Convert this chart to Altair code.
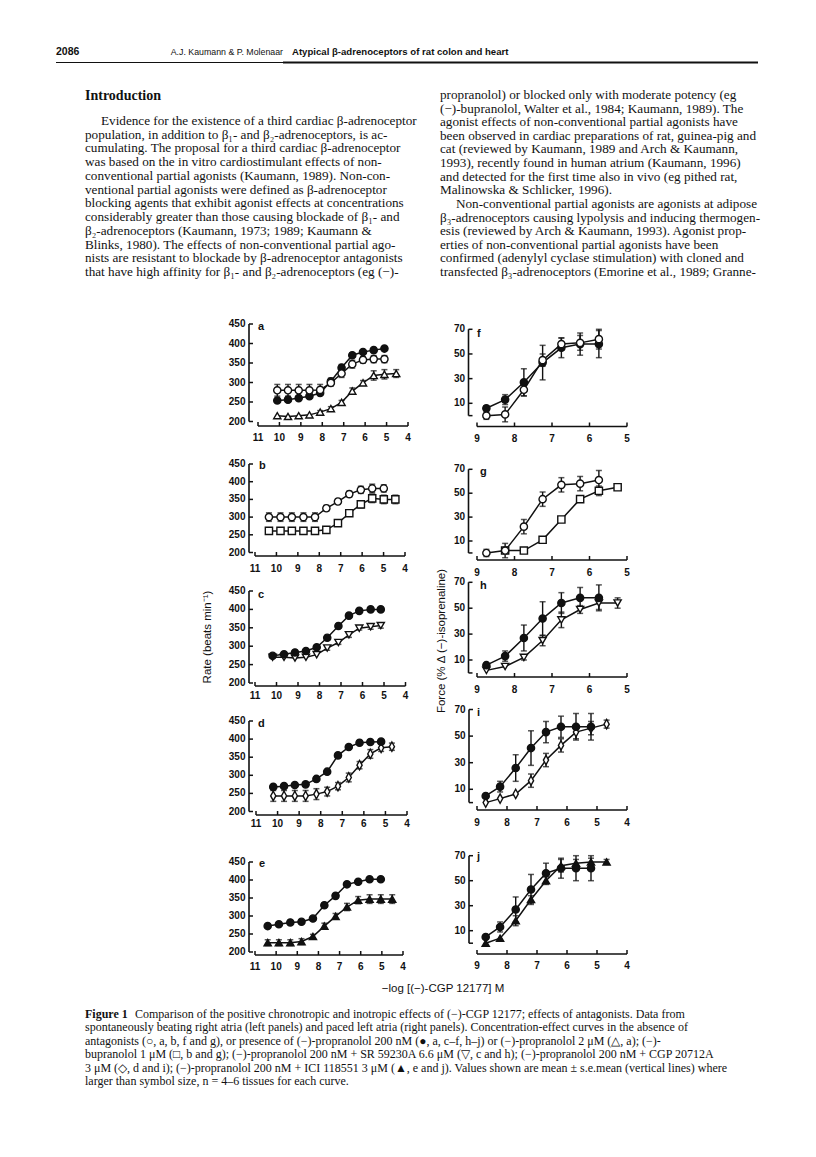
import altair as alt
import pandas as pd

OFF = 8  # page margin

# ---------------- text content ----------------
HEADER_PAGE = ["2086"]
HEADER_AUTH = ["A.J. Kaumann & P. Molenaar"]
HEADER_TITLE = ["Atypical β-adrenoceptors of rat colon and heart"]
SECTION = ["Introduction"]

LEFT_COL = [
    "Evidence for the existence of a third cardiac β-adrenoceptor",
    "population, in addition to β₁- and β₂-adrenoceptors, is ac-",
    "cumulating. The proposal for a third cardiac β-adrenoceptor",
    "was based on the in vitro cardiostimulant effects of non-",
    "conventional partial agonists (Kaumann, 1989). Non-con-",
    "ventional partial agonists were defined as β-adrenoceptor",
    "blocking agents that exhibit agonist effects at concentrations",
    "considerably greater than those causing blockade of β₁- and",
    "β₂-adrenoceptors (Kaumann, 1973; 1989; Kaumann &",
    "Blinks, 1980). The effects of non-conventional partial ago-",
    "nists are resistant to blockade by β-adrenoceptor antagonists",
    "that have high affinity for β₁- and β₂-adrenoceptors (eg (−)-",
]
LEFT_IND = [1, 0, 0, 0, 0, 0, 0, 0, 0, 0, 0, 0]

RIGHT_COL = [
    "propranolol) or blocked only with moderate potency (eg",
    "(−)-bupranolol, Walter et al., 1984; Kaumann, 1989). The",
    "agonist effects of non-conventional partial agonists have",
    "been observed in cardiac preparations of rat, guinea-pig and",
    "cat (reviewed by Kaumann, 1989 and Arch & Kaumann,",
    "1993), recently found in human atrium (Kaumann, 1996)",
    "and detected for the first time also in vivo (eg pithed rat,",
    "Malinowska & Schlicker, 1996).",
    "Non-conventional partial agonists are agonists at adipose",
    "β₃-adrenoceptors causing lypolysis and inducing thermogen-",
    "esis (reviewed by Arch & Kaumann, 1993). Agonist prop-",
    "erties of non-conventional partial agonists have been",
    "confirmed (adenylyl cyclase stimulation) with cloned and",
    "transfected β₃-adrenoceptors (Emorine et al., 1989; Granne-",
]
RIGHT_IND = [0, 0, 0, 0, 0, 0, 0, 0, 1, 0, 0, 0, 0, 0]

CAPTION_LABEL = ["Figure 1"]
CAPTION = [
    "Comparison of the positive chronotropic and inotropic effects of (−)-CGP 12177; effects of antagonists. Data from",
    "spontaneously beating right atria (left panels) and paced left atria (right panels). Concentration-effect curves in the absence of",
    "antagonists (○, a, b, f and g), or presence of (−)-propranolol 200 nM (●, a, c–f, h–j) or (−)-propranolol 2 μM (△, a); (−)-",
    "bupranolol 1 μM (□, b and g); (−)-propranolol 200 nM + SR 59230A 6.6 μM (▽, c and h); (−)-propranolol 200 nM + CGP 20712A",
    "3 μM (◇, d and i); (−)-propranolol 200 nM + ICI 118551 3 μM (▲, e and j). Values shown are mean ± s.e.mean (vertical lines) where",
    "larger than symbol size, n = 4–6 tissues for each curve.",
]
CAPTION_IND = [1, 0, 0, 0, 0, 0]

Y_TITLE_L = ["Rate (beats min⁻¹)"]
Y_TITLE_R = ["Force (% Δ (−)-isoprenaline)"]
X_TITLE = ["−log [(−)-CGP 12177] M"]

# ---------------- axis ticks ----------------
RATE_TICKS = [200, 250, 300, 350, 400, 450]
RATE_LABELS = ["200", "250", "300", "350", "400", "450"]
FORCE_TICKS = [0, 10, 30, 50, 70]
FORCE_LABELS = ["", "10", "30", "50", "70"]
LOGC_LEFT = [11, 10, 9, 8, 7, 6, 5, 4]
LOGC_RIGHT5 = [9, 8, 7, 6, 5]
LOGC_RIGHT4 = [9, 8, 7, 6, 5, 4]

# ---------------- data ----------------
A_X = [10.1, 9.6, 9.1, 8.6, 8.1, 7.6, 7.1, 6.6, 6.1, 5.6, 5.1, 4.55]
A_OPEN = [280, 280, 280, 280, 281, 299, 323, 347, 358, 360, 360]
A_OPEN_SE = [15, 15, 15, 15, 14, 8, 10, 10, 8, 9, 9]
A_FILL = [254, 256, 260, 265, 273, 303, 338, 370, 378, 383, 387]
A_FILL_SE = [0, 0, 0, 0, 5, 8, 8, 5, 0, 0, 0]
A_TRI = [215, 213, 215, 217, 224, 233, 249, 278, 299, 318, 321, 323]
A_TRI_SE = [0, 0, 0, 0, 4, 5, 5, 8, 6, 12, 12, 10]

B_X = [10.35, 9.81, 9.28, 8.74, 8.2, 7.67, 7.13, 6.6, 6.06, 5.53, 4.99, 4.45]
B_OPEN = [300, 300, 300, 300, 300, 325, 344, 365, 377, 381, 381]
B_OPEN_SE = [12, 12, 12, 12, 12, 8, 8, 8, 10, 12, 10]
B_SQ = [261, 261, 261, 261, 261, 264, 283, 311, 336, 353, 350, 350]
B_SQ_SE = [0, 0, 0, 0, 0, 0, 6, 6, 10, 12, 12, 12]

C_X = [10.18, 9.65, 9.14, 8.63, 8.13, 7.64, 7.12, 6.63, 6.15, 5.62, 5.15]
C_FILL = [274, 278, 283, 287, 297, 323, 355, 383, 396, 400, 400]
C_FILL_SE = [0, 0, 0, 0, 5, 6, 5, 5, 0, 0, 0]
C_DTRI = [270, 270, 268, 270, 277, 295, 310, 331, 349, 353, 356]
C_DTRI_SE = [0, 0, 0, 0, 0, 6, 5, 7, 5, 7, 7]

D_X = [10.2, 9.7, 9.2, 8.7, 8.2, 7.7, 7.2, 6.7, 6.2, 5.7, 5.2, 4.7]
D_FILL = [268, 270, 273, 275, 290, 310, 355, 378, 390, 392, 393]
D_FILL_SE = [0, 0, 0, 5, 0, 0, 5, 5, 0, 0, 5]
D_DIA = [243, 243, 243, 243, 248, 255, 270, 294, 328, 359, 376, 379]
D_DIA_SE = [15, 15, 15, 15, 15, 12, 10, 12, 10, 12, 10, 10]

E_X = [10.4, 9.87, 9.33, 8.8, 8.26, 7.72, 7.19, 6.65, 6.12, 5.58, 5.05, 4.51]
E_FILL = [272, 277, 282, 284, 293, 330, 356, 388, 395, 402, 402]
E_FILL_SE = [0, 0, 0, 0, 0, 5, 5, 0, 0, 0, 0]
E_TRI = [226, 226, 226, 229, 243, 272, 299, 325, 344, 347, 347, 347]
E_TRI_SE = [8, 8, 8, 8, 6, 8, 8, 10, 10, 12, 12, 12]

FGH_X = [8.75, 8.25, 7.75, 7.25, 6.75, 6.25, 5.75, 5.25]
F_OPEN = [0, 1, 21, 45, 58, 59, 62]
F_OPEN_SE = [3, 6, 5, 5, 5, 6, 8]
F_FILL = [6, 13, 27, 43, 55, 58, 58]
F_FILL_SE = [2, 4, 11, 14, 8, 9, 11]
G_OPEN = [0, 2, 22, 45, 57, 58, 61]
G_OPEN_SE = [3, 6, 6, 6, 6, 6, 8]
G_SQ_X = [8.25, 7.75, 7.25, 6.75, 6.25, 5.75, 5.25]
G_SQ = [2, 2, 11, 28, 45, 52, 55]
G_SQ_SE = [0, 0, 0, 0, 0, 4, 2]
H_FILL = [6, 13, 27, 42, 54, 58, 58]
H_FILL_SE = [1, 4, 10, 13, 8, 8, 10]
H_DTRI = [2, 5, 12, 25, 41, 49, 54, 54]
H_DTRI_SE = [0, 0, 2, 4, 6, 3, 5, 4]

IJ_X = [8.71, 8.23, 7.71, 7.2, 6.7, 6.2, 5.7, 5.2, 4.68]
I_FILL = [5, 12, 26, 41, 53, 57, 57, 57]
I_FILL_SE = [0, 4, 10, 13, 8, 8, 10, 10]
I_DIA = [0, 3, 6.5, 16.5, 32, 43, 53, 56, 59]
I_DIA_SE = [0, 0, 0, 5, 5, 5, 5, 5, 3]
J_FILL = [5, 13, 27, 43, 56, 60, 60, 60]
J_FILL_SE = [0, 4, 10, 12, 8, 8, 10, 10]
J_TRI = [0, 4, 18, 35, 50, 62, 64, 65, 65]
J_TRI_SE = [0, 0, 4, 3, 3, 5, 3, 3, 2]

# ---------------- styling / layout (page pixels) ----------------
SERIF = "Liberation Serif"
SANS = "Liberation Sans"
INK = "#111111"
SYM = 52
DIAMOND = "M0,-1.3L0.72,0L0,1.3L-0.72,0Z"

LEFT_LAYOUT = {
    "a": dict(y_top=324, y_bot=421.5, x_l=258, x_r=408, ax=249, ay=426, ly=438, let=(258, 327)),
    "b": dict(y_top=464, y_bot=552.5, x_l=255, x_r=405, ax=249, ay=556, ly=569, let=(259, 466)),
    "c": dict(y_top=591, y_bot=683, x_l=255, x_r=405.5, ax=249, ay=686, ly=696, let=(258, 595)),
    "d": dict(y_top=721, y_bot=811.5, x_l=256, x_r=407, ax=249, ay=815, ly=824, let=(258, 724)),
    "e": dict(y_top=862, y_bot=952, x_l=255, x_r=403, ax=249, ay=955, ly=967, let=(259, 864)),
}
RIGHT_LAYOUT = {
    "f": dict(y70=329.3, y10=403.3, x_l=477, x_r=627, xmax=5, ax=468.5, ay=426.5, ly=438.5, let=(477, 334)),
    "g": dict(y70=469.3, y10=541, x_l=477, x_r=627, xmax=5, ax=468.5, ay=560, ly=572.5, let=(480, 472)),
    "h": dict(y70=582.3, y10=660, x_l=477, x_r=627, xmax=5, ax=468.5, ay=677, ly=689.5, let=(480, 586)),
    "i": dict(y70=709.5, y10=789.3, x_l=477, x_r=627, xmax=4, ax=469, ay=810, ly=823, let=(477, 713)),
    "j": dict(y70=855.7, y10=930.7, x_l=477, x_r=627, xmax=4, ax=469, ay=954, ly=965.5, let=(477, 857)),
}


def P(v):
    return v - OFF


def scale(domain, rng):
    return alt.Scale(domain=domain, range=[P(r) for r in rng], zero=False, nice=False)


def series(xs, ys, se, shape, filled, xsc, ysc):
    n = len(ys)
    df = pd.DataFrame({"x": xs[:n], "y": ys, "se": se})
    df["lo"] = df["y"] - df["se"]
    df["hi"] = df["y"] + df["se"]
    X = alt.X("x:Q", scale=xsc, axis=None)
    line = alt.Chart(df).mark_line(color=INK, strokeWidth=1.5).encode(
        X, alt.Y("y:Q", scale=ysc, axis=None))
    eb = df[df["se"] > 0]
    bars = []
    if len(eb):
        bars.append(alt.Chart(eb).mark_rule(color=INK, strokeWidth=1.4).encode(
            X, alt.Y("lo:Q", scale=ysc, axis=None), alt.Y2("hi:Q")))
        for col in ("lo", "hi"):
            bars.append(alt.Chart(eb).mark_tick(
                orient="horizontal", color=INK, size=6, thickness=1.5).encode(
                X, alt.Y(f"{col}:Q", scale=ysc, axis=None)))
    pts = alt.Chart(df).mark_point(
        shape=shape, filled=True, fill=INK if filled else "white", stroke=INK,
        strokeWidth=1.4, size=SYM, opacity=1).encode(X, alt.Y("y:Q", scale=ysc, axis=None))
    return line, bars, pts


def axes(xsc, ysc, ydom, yticks, ylabels, xticks, ax, ay, ly, letter, letpos):
    layers = []
    ydf = pd.DataFrame({"y0": [ydom[0]], "y1": [ydom[1]]})
    layers.append(alt.Chart(ydf).mark_rule(color=INK, strokeWidth=1.6).encode(
        x=alt.value(P(ax)), y=alt.Y("y0:Q", scale=ysc, axis=None), y2="y1:Q"))
    tdf = pd.DataFrame({"t": yticks, "lab": ylabels})
    layers.append(alt.Chart(tdf).mark_rule(color=INK, strokeWidth=1.5).encode(
        x=alt.value(P(ax)), x2=alt.value(P(ax + 4)), y=alt.Y("t:Q", scale=ysc, axis=None)))
    layers.append(alt.Chart(tdf).mark_text(
        align="right", baseline="middle", font=SANS, fontSize=10, fontWeight="bold", color=INK).encode(
        x=alt.value(P(ax - 3.5)), y=alt.Y("t:Q", scale=ysc, axis=None), text="lab:N"))
    xdf = pd.DataFrame({"x0": [min(xticks)], "x1": [max(xticks)]})
    layers.append(alt.Chart(xdf).mark_rule(color=INK, strokeWidth=1.6).encode(
        x=alt.X("x0:Q", scale=xsc, axis=None), x2="x1:Q", y=alt.value(P(ay))))
    xtdf = pd.DataFrame({"t": xticks, "lab": [str(t) for t in xticks]})
    layers.append(alt.Chart(xtdf).mark_rule(color=INK, strokeWidth=1.5).encode(
        x=alt.X("t:Q", scale=xsc, axis=None), y=alt.value(P(ay - 4)), y2=alt.value(P(ay))))
    layers.append(alt.Chart(xtdf).mark_text(
        baseline="middle", font=SANS, fontSize=10, fontWeight="bold", color=INK).encode(
        x=alt.X("t:Q", scale=xsc, axis=None), y=alt.value(P(ly)), text="lab:N"))
    ldf = pd.DataFrame({"t": [letter]})
    layers.append(alt.Chart(ldf).mark_text(
        align="left", baseline="middle", font=SANS, fontSize=11, fontWeight="bold", color=INK).encode(
        x=alt.value(P(letpos[0])), y=alt.value(P(letpos[1])), text="t:N"))
    return layers


def panel(letter, specs, left=True):
    if left:
        L = LEFT_LAYOUT[letter]
        xsc = scale([11, 4], [L["x_l"], L["x_r"]])
        ysc = scale([200, 450], [L["y_bot"], L["y_top"]])
        ydom, yt, yl, xt = [200, 450], RATE_TICKS, RATE_LABELS, LOGC_LEFT
    else:
        L = RIGHT_LAYOUT[letter]
        xsc = scale([9, L["xmax"]], [L["x_l"], L["x_r"]])
        ysc = scale([10, 70], [L["y10"], L["y70"]])
        ydom, yt, yl = [0, 70], FORCE_TICKS, FORCE_LABELS
        xt = LOGC_RIGHT5 if L["xmax"] == 5 else LOGC_RIGHT4
    lines, bars, pts = [], [], []
    for xs, ys, se, shape, filled in specs:
        ln, br, pt = series(xs, ys, se, shape, filled, xsc, ysc)
        lines.append(ln)
        bars.extend(br)
        pts.append(pt)
    ax_layers = axes(xsc, ysc, ydom, yt, yl, xt, L["ax"], L["ay"], L["ly"], letter, L["let"])
    return alt.layer(*(ax_layers + lines + bars + pts))


panels = [
    panel("a", [(A_X, A_TRI, A_TRI_SE, "triangle-up", False),
                (A_X, A_FILL, A_FILL_SE, "circle", True),
                (A_X, A_OPEN, A_OPEN_SE, "circle", False)]),
    panel("b", [(B_X, B_SQ, B_SQ_SE, "square", False),
                (B_X, B_OPEN, B_OPEN_SE, "circle", False)]),
    panel("c", [(C_X, C_DTRI, C_DTRI_SE, "triangle-down", False),
                (C_X, C_FILL, C_FILL_SE, "circle", True)]),
    panel("d", [(D_X, D_DIA, D_DIA_SE, DIAMOND, False),
                (D_X, D_FILL, D_FILL_SE, "circle", True)]),
    panel("e", [(E_X, E_TRI, E_TRI_SE, "triangle-up", True),
                (E_X, E_FILL, E_FILL_SE, "circle", True)]),
    panel("f", [(FGH_X, F_FILL, F_FILL_SE, "circle", True),
                (FGH_X, F_OPEN, F_OPEN_SE, "circle", False)], left=False),
    panel("g", [(G_SQ_X, G_SQ, G_SQ_SE, "square", False),
                (FGH_X, G_OPEN, G_OPEN_SE, "circle", False)], left=False),
    panel("h", [(FGH_X, H_DTRI, H_DTRI_SE, "triangle-down", False),
                (FGH_X, H_FILL, H_FILL_SE, "circle", True)], left=False),
    panel("i", [(IJ_X, I_DIA, I_DIA_SE, DIAMOND, False),
                (IJ_X, I_FILL, I_FILL_SE, "circle", True)], left=False),
    panel("j", [(IJ_X, J_TRI, J_TRI_SE, "triangle-up", True),
                (IJ_X, J_FILL, J_FILL_SE, "circle", True)], left=False),
]


def text_block(lines, ind, x0, x_ind, y_first, y_last, size, weight="normal", font=SERIF):
    df = pd.DataFrame({"t": lines, "i": list(range(len(lines))), "ind": ind})
    return alt.Chart(df).mark_text(
        align="left", baseline="middle", font=font, fontSize=size, fontWeight=weight, color=INK).encode(
        x=alt.X("ind:Q", scale=alt.Scale(domain=[0, 1], range=[P(x0), P(x_ind)], zero=False, nice=False), axis=None),
        y=alt.Y("i:Q", scale=alt.Scale(domain=[0, max(len(lines) - 1, 1)], range=[P(y_first), P(y_last)], zero=False, nice=False), axis=None),
        text="t:N")


def single_text(txt, x, y, size, weight="normal", font=SANS, align="left", angle=0):
    df = pd.DataFrame({"t": txt})
    return alt.Chart(df).mark_text(
        align=align, baseline="middle", font=font, fontSize=size, fontWeight=weight,
        color=INK, angle=angle).encode(x=alt.value(P(x)), y=alt.value(P(y)), text="t:N")


rule_df = pd.DataFrame({"k": [0]})
header_rule = alt.Chart(rule_df).mark_rule(color=INK, strokeWidth=1.0).encode(
    x=alt.value(P(56)), x2=alt.value(P(758)), y=alt.value(P(62.5)))
header_rule2 = alt.Chart(rule_df).mark_rule(color=INK, strokeWidth=1.8).encode(
    x=alt.value(P(283)), x2=alt.value(P(758)), y=alt.value(P(62.5)))

texts = [
    header_rule, header_rule2,
    single_text(HEADER_PAGE, 56, 52, 10.5, "bold"),
    single_text(HEADER_AUTH, 283, 52, 8.8, align="right"),
    single_text(HEADER_TITLE, 292, 52, 9.6, "bold"),
    single_text(SECTION, 85, 96, 14, "bold", SERIF),
    text_block(LEFT_COL, LEFT_IND, 85, 101, 121, 272, 13.2),
    text_block(RIGHT_COL, RIGHT_IND, 440, 456, 95, 272, 13.2),
    single_text(CAPTION_LABEL, 85, 1014, 12, "bold", SERIF),
    text_block(CAPTION, CAPTION_IND, 85, 135, 1014, 1081, 12),
    single_text(Y_TITLE_L, 207.5, 637, 11.5, align="center", angle=270),
    single_text(Y_TITLE_R, 441.5, 641, 11.5, align="center", angle=270),
    single_text(X_TITLE, 443, 989, 11.5, align="center"),
]

chart = alt.layer(*(panels + texts)).resolve_scale(
    x="independent", y="independent"
).properties(
    width=800, height=1141, autosize="none", padding=0, background="white"
).configure_view(stroke=None)

chart.save("out.html", embed_options={"renderer": "svg", "actions": False})
